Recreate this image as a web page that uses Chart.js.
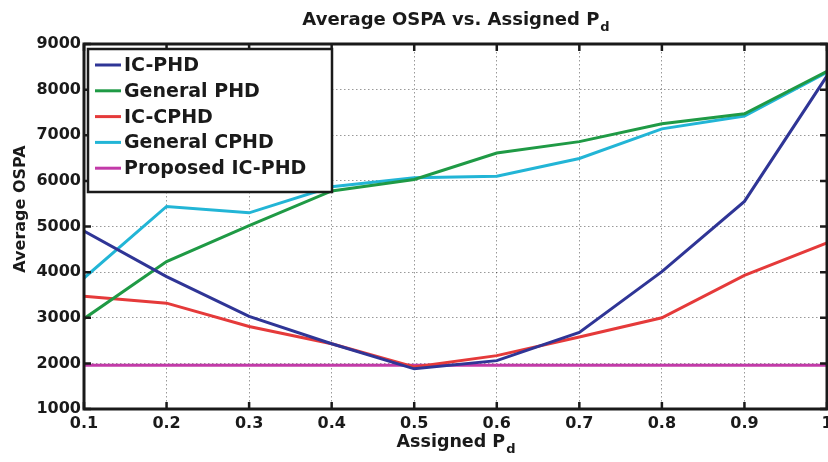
<!DOCTYPE html>
<html>
<head>
<meta charset="utf-8">
<script src="https://cdn.jsdelivr.net/npm/chart.js@4"></script>
<style>
html, body { margin: 0; padding: 0; background: #fff; }
</style>
</head>
<body>
<canvas id="ospaChart" width="828" height="462"></canvas>
<script>
// assigned Pd on the x axis
const pdValues = [0.1, 0.2, 0.3, 0.4, 0.5, 0.6, 0.7, 0.8, 0.9, 1.0];
const yTicks = [1000, 2000, 3000, 4000, 5000, 6000, 7000, 8000, 9000];

// average OSPA per filter
const icPhd = [4900, 3900, 3030, 2430, 1880, 2060, 2680, 4010, 5550, 8300];
const generalPhd = [2980, 4230, 5020, 5780, 6030, 6610, 6860, 7250, 7470, 8400];
const icCphd = [3470, 3320, 2810, 2430, 1920, 2170, 2580, 3000, 3930, 4640];
const generalCphd = [3870, 5440, 5300, 5870, 6070, 6100, 6490, 7140, 7420, 8380];
const proposedIcPhd = [1960, 1960, 1960, 1960, 1960, 1960, 1960, 1960, 1960, 1960];

const fontFamily = '"DejaVu Sans", "Liberation Sans", Arial, sans-serif';
const textColor = '#1a1a1a';

function toPoints(values) {
    return pdValues.map((x, i) => ({ x: x, y: values[i] }));
}

function drawWithSubscript(ctx, main, sub, cx, baseline, size) {
    const mainFont = 'bold ' + size + 'px ' + fontFamily;
    const subFont = 'bold ' + Math.round(size * 0.72) + 'px ' + fontFamily;
    ctx.font = mainFont;
    const w1 = ctx.measureText(main).width;
    ctx.font = subFont;
    const w2 = ctx.measureText(sub).width;
    const x = cx - (w1 + w2) / 2;
    ctx.textAlign = 'left';
    ctx.textBaseline = 'alphabetic';
    ctx.fillStyle = textColor;
    ctx.font = mainFont;
    ctx.fillText(main, x, baseline);
    ctx.font = subFont;
    ctx.fillText(sub, x + w1 + 1, baseline + size * 0.35);
}

// title, x label (both have a subscript d) and the y label
const labelsPlugin = {
    id: 'subLabels',
    afterDraw(chart) {
        const {ctx, chartArea} = chart;
        const cx = (chartArea.left + chartArea.right) / 2;
        ctx.save();
        drawWithSubscript(ctx, 'Average OSPA vs. Assigned P', 'd', cx, 25, 18);
        drawWithSubscript(ctx, 'Assigned P', 'd', cx, 447, 17.5);
        ctx.translate(21, 209);
        ctx.rotate(-Math.PI / 2);
        ctx.font = 'bold 16px ' + fontFamily;
        ctx.textAlign = 'center';
        ctx.textBaseline = 'middle';
        ctx.fillStyle = textColor;
        ctx.fillText('Average OSPA', 0, 0);
        ctx.restore();
    }
};

// thick box, inward ticks on all four sides, legend box inside the plot
const framePlugin = {
    id: 'frame',
    afterDatasetsDraw(chart) {
        const {ctx, chartArea, scales} = chart;
        const {left, right, top, bottom} = chartArea;
        ctx.save();
        ctx.strokeStyle = '#1a1a1a';
        ctx.lineWidth = 2.5;
        ctx.beginPath();
        scales.x.ticks.forEach(t => {
            const x = scales.x.getPixelForValue(t.value);
            ctx.moveTo(x, bottom); ctx.lineTo(x, bottom - 7);
            ctx.moveTo(x, top); ctx.lineTo(x, top + 7);
        });
        scales.y.ticks.forEach(t => {
            const y = scales.y.getPixelForValue(t.value);
            ctx.moveTo(left, y); ctx.lineTo(left + 7, y);
            ctx.moveTo(right, y); ctx.lineTo(right - 7, y);
        });
        ctx.stroke();
        ctx.lineWidth = 3;
        ctx.strokeRect(left, top, right - left, bottom - top);

        // legend
        const lx = left + 4, ly = top + 5, lw = 244, lh = 143;
        ctx.fillStyle = '#fff';
        ctx.fillRect(lx, ly, lw, lh);
        ctx.lineWidth = 2.5;
        ctx.strokeRect(lx, ly, lw, lh);
        ctx.font = 'bold 19px ' + fontFamily;
        ctx.textAlign = 'left';
        ctx.textBaseline = 'middle';
        chart.data.datasets.forEach((ds, i) => {
            const y = ly + 16 + i * 25.8;
            ctx.strokeStyle = ds.borderColor;
            ctx.lineWidth = 3;
            ctx.beginPath();
            ctx.moveTo(lx + 7, y);
            ctx.lineTo(lx + 33, y);
            ctx.stroke();
            ctx.fillStyle = textColor;
            ctx.fillText(ds.label, lx + 36, y + 1);
        });
        ctx.restore();
    }
};

const series = [
    { label: 'IC-PHD', values: icPhd, color: '#2f3596' },
    { label: 'General PHD', values: generalPhd, color: '#1f9a45' },
    { label: 'IC-CPHD', values: icCphd, color: '#e53a3a' },
    { label: 'General CPHD', values: generalCphd, color: '#22b5d6' },
    { label: 'Proposed IC-PHD', values: proposedIcPhd, color: '#c23aa8' }
];

const ctx = document.getElementById('ospaChart').getContext('2d');
new Chart(ctx, {
    type: 'line',
    data: {
        datasets: series.map(s => ({
            label: s.label,
            data: toPoints(s.values),
            borderColor: s.color,
            backgroundColor: s.color,
            borderWidth: 3,
            pointRadius: 0,
            tension: 0,
            fill: false
        }))
    },
    options: {
        responsive: false,
        animation: false,
        events: [],
        layout: { padding: { top: 44, right: 1, bottom: 0, left: 0 } },
        plugins: {
            legend: { display: false },
            title: { display: false },
            tooltip: { enabled: false }
        },
        scales: {
            x: {
                type: 'linear',
                min: 0.1,
                max: 1,
                afterFit(scale) {
                    scale.height = 53;
                    scale.paddingLeft = 0;
                    scale.paddingRight = 0;
                },
                grid: { color: 'rgba(0,0,0,0.4)', lineWidth: 1, drawTicks: false },
                border: { display: false, dash: [1.5, 2.5] },
                ticks: {
                    stepSize: 0.1,
                    padding: 5,
                    maxRotation: 0,
                    autoSkip: false,
                    color: textColor,
                    font: { family: fontFamily, size: 16, weight: 'bold' },
                    callback: function(value) {
                        return String(Number(value.toFixed(1)));
                    }
                }
            },
            y: {
                min: 1000,
                max: 9000,
                afterFit(scale) {
                    scale.width = 84;
                    scale.paddingTop = 0;
                    scale.paddingBottom = 0;
                },
                afterBuildTicks(scale) {
                    scale.ticks = yTicks.map(v => ({ value: v }));
                },
                grid: { color: 'rgba(0,0,0,0.4)', lineWidth: 1, drawTicks: false },
                border: { display: false, dash: [1.5, 2.5] },
                ticks: {
                    padding: 3,
                    color: textColor,
                    font: { family: fontFamily, size: 16, weight: 'bold' },
                    callback: function(value) {
                        return String(value);
                    }
                }
            }
        }
    },
    plugins: [labelsPlugin, framePlugin]
});
</script>
</body>
</html>
